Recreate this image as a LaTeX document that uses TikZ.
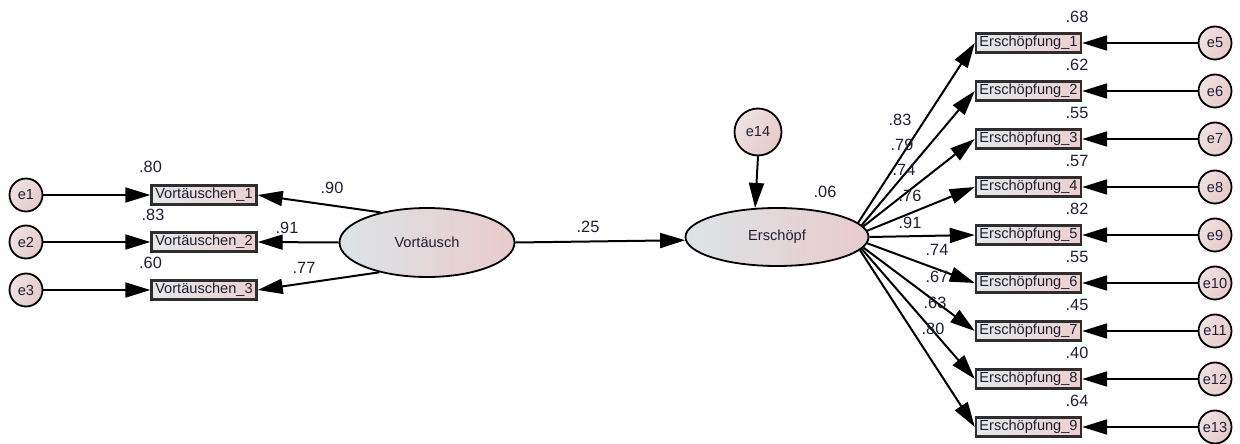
\documentclass[tikz,border=0pt]{standalone}
\usepackage{fontspec}
\setmainfont{Liberation Sans}
\usetikzlibrary{arrows.meta,shapes.geometric}
\definecolor{ink}{HTML}{1E1E34}
\definecolor{boxline}{HTML}{2E2E2E}
\definecolor{boxL}{HTML}{E3E9EA}
\definecolor{boxR}{HTML}{EDCFCF}
\definecolor{latL}{HTML}{DCE4E7}
\definecolor{latR}{HTML}{E9CACB}
\definecolor{errL}{HTML}{EFE2E2}
\definecolor{errR}{HTML}{E6C9C9}
\newcommand\boxfont{\fontsize{14.6}{16}\selectfont}
\newcommand\numfont{\fontsize{16.3}{18}\selectfont}
\begin{document}
\begin{tikzpicture}[x=1pt,y=-1pt,
  obs/.style={draw=boxline, line width=2.4pt, left color=boxL, right color=boxR,
    minimum width=105pt, minimum height=19pt, inner sep=0pt, font=\boxfont, text=ink},
  lat/.style={ellipse, draw=black, line width=1.8pt, left color=latL, right color=latR,
    inner sep=0pt, font=\boxfont, text=ink},
  err/.style={circle, draw=black, line width=1.8pt, left color=errL, right color=errR,
    shading angle=60, minimum size=33pt, inner sep=0pt, font=\boxfont, text=ink},
  link/.style={line width=2pt, -{Triangle[length=25pt,width=15pt]}},
  est/.style={font=\numfont, text=ink, inner sep=0pt}
]
\useasboundingbox (0,0) rectangle (1240,444);

% ---- exogenous factor and its indicators
\node[lat, minimum width=175pt, minimum height=69pt] (vort) at (427,242.5) {Vortäusch};
\node[obs] (v1) at (204,195) {Vortäuschen\_1};
\node[obs] (v2) at (204,242) {Vortäuschen\_2};
\node[obs] (v3) at (204,290) {Vortäuschen\_3};
\node[err] (e1) at (26,195) {e1};
\node[err] (e2) at (26,242) {e2};
\node[err] (e3) at (26,290) {e3};

\draw[link] (e1) -- (v1);
\draw[link] (e2) -- (v2);
\draw[link] (e3) -- (v3);
\draw[link] (vort.147) -- (v1.east);
\draw[link] (vort.west) -- (v2.east);
\draw[link] (vort.212) -- (v3.east);

% ---- endogenous factor with its disturbance
\node[lat, minimum width=183pt, minimum height=58pt] (ersch) at (777,237) {Erschöpf};
\node[err, minimum size=47pt] (e14) at (758,132) {e14};
\draw[link] (e14.south) -- (ersch.127);
\draw[link] (vort.east) -- (ersch.182);

% ---- indicators of the endogenous factor
\foreach \k/\a in {1/10,2/8,3/7,4/4,5/0,6/356,7/353,8/352,9/351}{
  \pgfmathtruncatemacro\en{\k+4}
  \node[obs] (E\k) at (1028.5,{43+48*(\k-1)}) {Erschöpfung\_\k};
  \node[err] (e\en) at (1215,{43+48*(\k-1)}) {e\en};
  \draw[link] (e\en) -- (E\k);
  \draw[link] (ersch.\a) -- (E\k.west);
}

% ---- estimates
\node[est] (r1) at (150.5,167) {.80};
\node[est] (r2) at (153,215) {.83};
\node[est] (r3) at (150.5,263) {.60};
\node[est] (w1) at (332,188) {.90};
\node[est] (w2) at (287,228) {.91};
\node[est] (w3) at (304,268) {.77};
\node[est] (b1) at (588,227) {.25};
\node[est] (r0) at (825,192) {.06};
\foreach \k/\t in {1/.68,2/.62,3/.55,4/.57,5/.82,6/.55,7/.45,8/.40,9/.64}
  \node[est] (R\k) at (1077,{17+48*(\k-1)}) {\t};
\foreach \k/\t/\x/\y in {1/.83/900/120,2/.79/902/145,3/.74/904/170,4/.76/910/196,
    5/.91/910/223,6/.74/937/250,7/.67/937/277,8/.63/935/303,9/.80/933/329}
  \node[est] (L\k) at (\x,\y) {\t};
\end{tikzpicture}
\end{document}
